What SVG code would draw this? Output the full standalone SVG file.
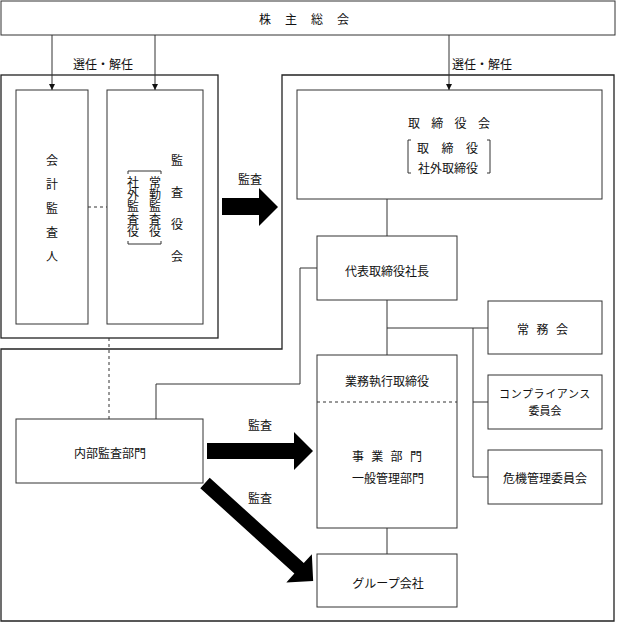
<svg xmlns="http://www.w3.org/2000/svg" width="617" height="623" viewBox="0 0 617 623">
<style>
text{font-family:"Noto Sans CJK JP","Noto Sans",sans-serif;font-size:12px;fill:#111;dominant-baseline:central}
.c{text-anchor:middle}
.v{writing-mode:vertical-rl;text-orientation:upright}
.sm{font-size:11px}
.box{fill:#fff;stroke:#333;stroke-width:1}
.frame{fill:none;stroke:#222;stroke-width:1.3}
.ln{fill:none;stroke:#333;stroke-width:1}
.dash{fill:none;stroke:#333;stroke-width:1;stroke-dasharray:3 3}
.big{fill:#000}
</style>
<defs>
<marker id="ah" markerWidth="8" markerHeight="8" refX="6" refY="3" orient="auto" markerUnits="userSpaceOnUse">
<path d="M0,0 L6,3 L0,6 Z" fill="#111"/>
</marker>
</defs>
<rect x="0" y="0" width="617" height="623" fill="#fff"/>

<g id="frames">
<rect class="frame" x="1" y="75" width="217" height="263"/>
<path class="frame" d="M1,349 L282,349 L282,75 L614,75 L614,621 L1,621 Z"/>
</g>

<g id="connectors">
<line class="ln" x1="52" y1="35" x2="52" y2="90" marker-end="url(#ah)"/>
<line class="ln" x1="155" y1="35" x2="155" y2="90" marker-end="url(#ah)"/>
<line class="ln" x1="449" y1="35" x2="449" y2="90" marker-end="url(#ah)"/>
<line class="dash" x1="88" y1="207" x2="107" y2="207"/>
<line class="dash" x1="109" y1="338" x2="109" y2="419"/>
<line class="ln" x1="387" y1="199" x2="387" y2="236"/>
<polyline class="ln" points="156,419 156,384 300,384 300,268 317,268"/>
<line class="ln" x1="387" y1="300" x2="387" y2="355"/>
<line class="ln" x1="387" y1="328" x2="488" y2="328"/>
<polyline class="ln" points="473,328 473,477 488,477"/>
<line class="ln" x1="473" y1="402" x2="488" y2="402"/>
<line class="ln" x1="387" y1="528" x2="387" y2="554"/>
<polygon class="big" points="222,198 259,198 259,188 278,207 259,226 259,215 222,215"/>
<polygon class="big" points="207,443 294,443 294,432 313,451 294,470 294,459 207,459"/>
<polygon class="big" transform="translate(205,483) rotate(42.2)" points="0,-7 127,-7 127,-19 146,0 127,19 127,7 0,7"/>
<text class="c" x="250" y="178">監査</text>
<text class="c" x="260" y="424">監査</text>
<text class="c" x="260" y="497">監査</text>
<text x="73" y="63">選任・解任</text>
<text x="452" y="63">選任・解任</text>
</g>

<g id="shareholders">
<rect class="box" x="1" y="1" width="614" height="34"/>
<text x="259" y="18" style="letter-spacing:14px">株主総会</text>
</g>

<g id="accounting-auditor">
<rect class="box" x="16" y="90" width="72" height="234"/>
<text class="v" x="52" y="154" style="letter-spacing:12px">会計監査人</text>
</g>

<g id="audit-board">
<rect class="box" x="107" y="90" width="96" height="234"/>
<text class="v" x="177" y="154" style="letter-spacing:20px">監査役会</text>
<path class="ln" d="M128,174 V171 H161 V174 M128,241 V244 H161 V241"/>
<text class="v" x="155" y="176.5" style="letter-spacing:0.2px">常勤監査役</text>
<text class="v" x="133" y="176.5" style="letter-spacing:0.2px">社外監査役</text>
</g>

<g id="board">
<rect class="box" x="297" y="90" width="305" height="109"/>
<text x="408" y="122" style="letter-spacing:11.3px">取締役会</text>
<path class="ln" d="M411,140 H408 V173 H411 M487,140 H490 V173 H487"/>
<text x="417" y="147" style="letter-spacing:12.5px">取締役</text>
<text x="418" y="167">社外取締役</text>
</g>

<g id="president">
<rect class="box" x="317" y="236" width="140" height="64"/>
<text class="c" x="387" y="270">代表取締役社長</text>
</g>

<g id="executive">
<rect class="box" x="317" y="355" width="140" height="173"/>
<text class="c" x="387" y="380">業務執行取締役</text>
<line class="dash" x1="317" y1="402" x2="457" y2="402"/>
<text x="352" y="455" style="letter-spacing:7.3px">事業部門</text>
<text x="352" y="477">一般管理部門</text>
</g>

<g id="managing-committee">
<rect class="box" x="488" y="301" width="114" height="53"/>
<text x="517" y="328" style="letter-spacing:7.5px">常務会</text>
</g>

<g id="compliance">
<rect class="box" x="488" y="375" width="114" height="54"/>
<text class="c sm" x="545" y="393" style="letter-spacing:0.6px">コンプライアンス</text>
<text class="c sm" x="545" y="410">委員会</text>
</g>

<g id="risk">
<rect class="box" x="488" y="450" width="114" height="54"/>
<text class="c" x="545" y="477">危機管理委員会</text>
</g>

<g id="internal-audit">
<rect class="box" x="16" y="419" width="187" height="64"/>
<text class="c" x="110" y="452">内部監査部門</text>
</g>

<g id="group">
<rect class="box" x="317" y="554" width="140" height="53"/>
<text class="c" x="388" y="582">グループ会社</text>
</g>
</svg>
